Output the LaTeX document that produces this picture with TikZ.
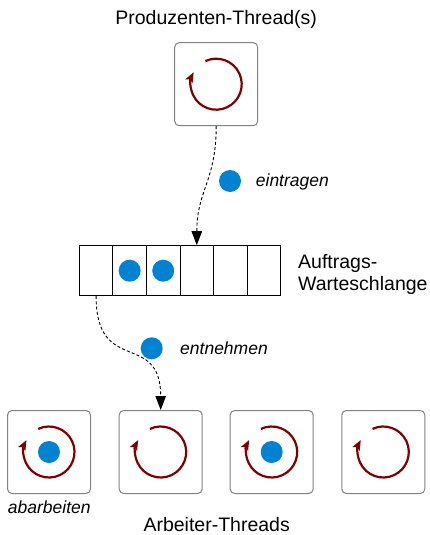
\documentclass[tikz,border=0pt]{standalone}
\usepackage{fontspec}
\setmainfont{Liberation Sans}
\usetikzlibrary{arrows.meta,calc}
\definecolor{tokblue}{RGB}{0,130,210}
\definecolor{spinred}{RGB}{128,0,0}
\definecolor{boxgray}{RGB}{130,130,130}
\tikzset{
  threadbox/.style={draw=boxgray, line width=1pt, rounded corners=4.5pt, minimum width=83pt, minimum height=83pt, inner sep=0pt, fill=white},
  cell/.style={draw=black, line width=1pt, minimum width=33.57pt, minimum height=50pt, inner sep=0pt},
  token/.style={circle, fill=tokblue, minimum size=22pt, inner sep=0pt},
  spin/.style={draw=spinred, line width=2.2pt, -{Stealth[length=10pt,width=8pt,inset=2pt]}},
  flow/.style={draw=black, line width=0.9pt, dash pattern=on 3pt off 2.2pt, -{Triangle[length=14pt,width=10.5pt]}},
  mainlabel/.style={font=\fontsize{19.5}{21.7}\selectfont, inner sep=0pt},
  actlabel/.style={font=\fontsize{17.5}{20}\selectfont\itshape, inner sep=0pt}
}
\begin{document}
\begin{tikzpicture}[x=1pt,y=1pt]
\useasboundingbox (0,0) rectangle (429,-535);

% title
\node[mainlabel, anchor=base] (ptitle) at (216.2,-25) {Produzenten-Thread(s)};

% producer
\node[threadbox] (prod) at (216.2,-84.2) {};
\draw[spin] ([shift={(115:25.5)}]prod.center) arc[start angle=115, end angle=-208, radius=25.5];

% queue
\foreach \i in {1,...,6} {
  \node[cell] (q\i) at ({79.3+33.57*(\i-0.5)},-270.7) {};
}
\node[token] (qt2) at (q2.center) {};
\node[token] (qt3) at (q3.center) {};
\node[mainlabel, anchor=base west] (qlab1) at (298,-268.3) {Auftrags-};
\node[mainlabel, anchor=base west] (qlab2) at (298,-290) {Warteschlange};

% workers
\foreach \i/\x in {1/49,2/160.7,3/271.7,4/383.3} {
  \node[threadbox] (w\i) at (\x,-452) {};
}
\node[token] (wt1) at (w1.center) {};
\node[token] (wt3) at (w3.center) {};
\foreach \i in {1,...,4} {
  \draw[spin] ([shift={(115:25.5)}]w\i.center) arc[start angle=115, end angle=-208, radius=25.5];
}

% flows
\draw[flow] (prod.south) .. controls ([yshift=-55pt]prod.south) and ([yshift=55pt]q4.north) .. (q4.north);
\node[token] (tin) at (230,-181) {};
\node[actlabel, anchor=base west] (lin) at (255.7,-186) {eintragen};

\draw[flow] (q1.south) .. controls ([yshift=-80pt]q1.south) and ([yshift=80pt]w2.north) .. (w2.north);
\node[token] (tout) at (151.7,-348.3) {};
\node[actlabel, anchor=base west] (lout) at (180,-354) {entnehmen};

\node[actlabel, anchor=base] (lwork) at (49.3,-513.3) {abarbeiten};
\node[mainlabel, anchor=base] (wtitle) at (216.7,-531.7) {Arbeiter-Threads};
\end{tikzpicture}
\end{document}
